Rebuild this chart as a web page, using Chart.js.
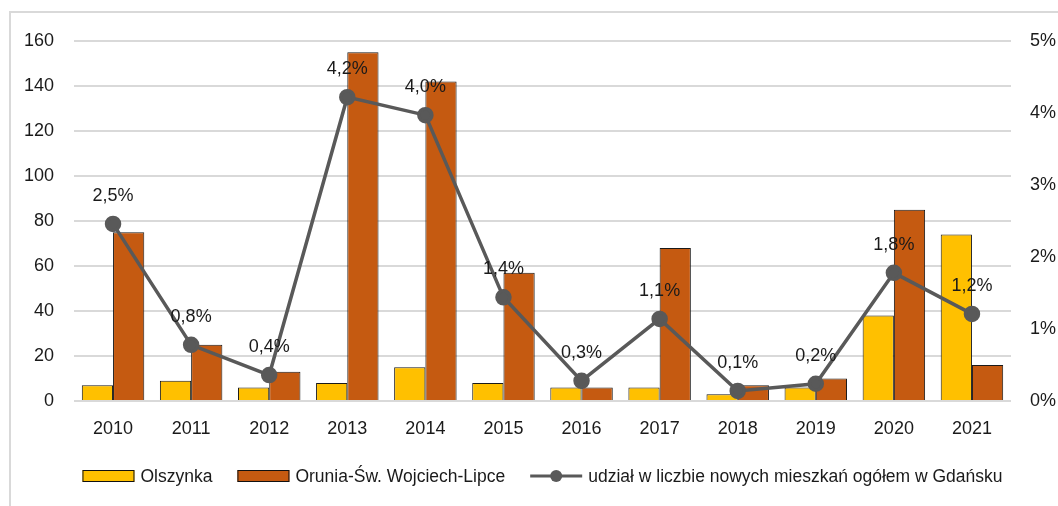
<!DOCTYPE html>
<html>
<head>
<meta charset="utf-8">
<script src="https://cdn.jsdelivr.net/npm/chart.js@4/dist/chart.umd.min.js"></script>
<style>
  html, body { margin: 0; padding: 0; background: #fff; }
  #wrap { position: relative; width: 1058px; height: 506px; overflow: hidden; }
  #frame { position: absolute; left: 9px; top: 11px; width: 1100px; height: 600px; border: 2px solid #d9d9d9; box-sizing: border-box; }
  canvas { position: absolute; left: 0; top: 0; }
</style>
</head>
<body>
<div id="wrap">
  <div id="frame"></div>
  <canvas id="wykres" width="1058" height="506"></canvas>
</div>
<script>
const lata = ['2010', '2011', '2012', '2013', '2014', '2015', '2016', '2017', '2018', '2019', '2020', '2021'];
const olszynka = [7, 9, 6, 8, 15, 8, 6, 6, 3, 6, 38, 74];
const orunia = [75, 25, 13, 155, 142, 57, 6, 68, 7, 10, 85, 16];
const udzial = [2.46, 0.78, 0.36, 4.22, 3.97, 1.44, 0.28, 1.14, 0.14, 0.24, 1.78, 1.21];
const lewaOs = [0, 20, 40, 60, 80, 100, 120, 140, 160];
const prawaOs = [0, 1, 2, 3, 4, 5];

const FONT = '"Liberation Sans Narrow", "Arial Narrow", "Liberation Sans", Arial, sans-serif';
const ROZMIAR = 18;
const TEKST = '#1a1a1a';

const fmtProc = v => v.toFixed(1).replace('.', ',') + '%';

// etykiety nad punktami linii
const etykiety = {
    id: 'etykiety',
    afterDatasetsDraw(chart) {
        const ctx = chart.ctx;
        const meta = chart.getDatasetMeta(2);
        ctx.save();
        ctx.font = ROZMIAR + 'px ' + FONT;
        ctx.fillStyle = TEKST;
        ctx.textAlign = 'center';
        ctx.textBaseline = 'middle';
        meta.data.forEach((pt, i) => {
            ctx.fillText(fmtProc(udzial[i]), pt.x, pt.y - 28);
        });
        ctx.restore();
    }
};

// legenda pod wykresem (linia z kropką jak w Excelu)
const legenda = {
    id: 'legenda',
    afterDraw(chart) {
        const ctx = chart.ctx;
        const ds = chart.data.datasets;
        const box = 52, gap = 6, odstep = 25;
        ctx.save();
        ctx.font = '17.5px ' + FONT;
        const szer = ds.map(d => box + gap + ctx.measureText(d.label).width);
        const total = szer.reduce((a, b) => a + b, 0) + odstep * (ds.length - 1);
        const ca = chart.chartArea;
        let x = (ca.left + ca.right) / 2 - total / 2;
        const y = 476;
        ds.forEach((d, i) => {
            if (d.type === 'line') {
                ctx.strokeStyle = d.borderColor;
                ctx.lineWidth = 3;
                ctx.beginPath();
                ctx.moveTo(x, y);
                ctx.lineTo(x + box, y);
                ctx.stroke();
                ctx.fillStyle = d.pointBackgroundColor;
                ctx.beginPath();
                ctx.arc(x + box / 2, y, 6, 0, Math.PI * 2);
                ctx.fill();
            } else {
                ctx.fillStyle = d.backgroundColor;
                ctx.fillRect(x, y - 6, box, 12);
                ctx.strokeStyle = '#111';
                ctx.lineWidth = 1;
                ctx.strokeRect(x + 0.5, y - 5.5, box - 1, 11);
            }
            ctx.fillStyle = TEKST;
            ctx.textBaseline = 'middle';
            ctx.textAlign = 'left';
            ctx.fillText(d.label, x + box + gap, y + 1);
            x += szer[i] + odstep;
        });
        ctx.restore();
    }
};

new Chart(document.getElementById('wykres'), {
    data: {
        labels: lata,
        datasets: [
            {
                type: 'bar',
                label: 'Olszynka',
                data: olszynka,
                backgroundColor: '#ffc000',
                borderColor: '#1a1a1a',
                borderWidth: 1,
                yAxisID: 'y',
                order: 2
            },
            {
                type: 'bar',
                label: 'Orunia-Św. Wojciech-Lipce',
                data: orunia,
                backgroundColor: '#c55a11',
                borderColor: '#1a1a1a',
                borderWidth: 1,
                yAxisID: 'y',
                order: 2
            },
            {
                type: 'line',
                label: 'udział w liczbie nowych mieszkań ogółem w Gdańsku',
                data: udzial,
                borderColor: '#595959',
                backgroundColor: '#595959',
                pointBackgroundColor: '#595959',
                pointBorderColor: '#595959',
                borderWidth: 3.5,
                pointRadius: 6.5,
                tension: 0,
                yAxisID: 'y1',
                order: 1
            }
        ]
    },
    options: {
        responsive: false,
        animation: false,
        layout: { padding: { top: 41, left: 0, right: 0, bottom: 0 } },
        plugins: {
            legend: { display: false },
            tooltip: { enabled: false }
        },
        datasets: {
            bar: { barPercentage: 1, categoryPercentage: 0.8 }
        },
        scales: {
            x: {
                grid: { display: false },
                border: { display: false },
                ticks: {
                    color: TEKST,
                    font: { family: FONT, size: ROZMIAR },
                    padding: 9,
                    maxRotation: 0
                },
                afterFit: s => { s.height = 105; }
            },
            y: {
                position: 'left',
                min: 0,
                max: 160,
                afterBuildTicks: s => { s.ticks = lewaOs.map(v => ({ value: v })); },
                grid: { color: '#d9d9d9', lineWidth: 2, drawTicks: false },
                border: { display: false },
                ticks: {
                    color: TEKST,
                    font: { family: FONT, size: ROZMIAR },
                    padding: 20
                },
                afterFit: s => { s.width = 74; }
            },
            y1: {
                position: 'right',
                min: 0,
                max: 5,
                afterBuildTicks: s => { s.ticks = prawaOs.map(v => ({ value: v })); },
                grid: { display: false, drawTicks: false },
                border: { display: false },
                ticks: {
                    color: TEKST,
                    font: { family: FONT, size: ROZMIAR },
                    padding: 19,
                    callback: v => v + '%'
                },
                afterFit: s => { s.width = 47; }
            }
        }
    },
    plugins: [etykiety, legenda]
});
</script>
</body>
</html>
